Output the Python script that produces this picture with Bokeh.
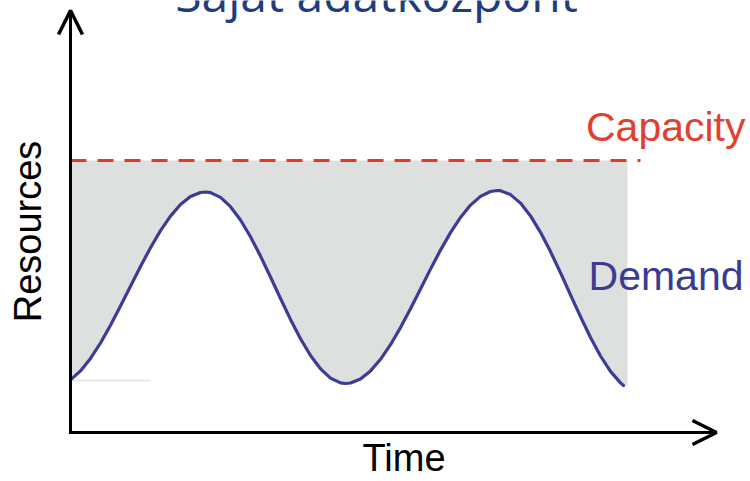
import math
from bokeh.plotting import figure
from bokeh.models import Range1d, Arrow, OpenHead, Label
from bokeh.embed import file_html
from bokeh.resources import INLINE

# ---- data (arbitrary units) ----
time = [0, 10, 20, 30, 40, 50, 60, 70, 80, 90, 100, 110, 120, 130, 135, 140,
        150, 160, 170, 180, 190, 200, 210, 220, 230, 240, 250, 260, 270, 275,
        280, 290, 300, 310, 320, 330, 340, 350, 360, 370, 380, 390, 400, 410,
        420, 427, 430, 440, 450, 460, 470, 480, 490, 500, 510, 520, 530, 540,
        550, 553]
demand = [52.6, 61.6, 74.1, 89.5, 107.2, 126.4, 146.2, 166.0, 184.8, 201.9,
          216.4, 228.0, 236.0, 240.0, 240.5, 239.9, 235.1, 225.8, 212.5, 195.7,
          176.4, 155.5, 134.0, 113.1, 93.8, 77.0, 63.7, 54.4, 49.6, 49.0,
          49.5, 53.6, 61.6, 73.2, 87.8, 104.9, 123.8, 143.5, 163.4, 182.4,
          199.9, 215.1, 227.4, 236.1, 241.0, 242.0, 241.8, 237.9, 229.4, 216.6,
          200.2, 180.9, 159.8, 137.7, 115.8, 95.0, 76.5, 61.1, 49.6, 47.0]
capacity = 272.0
capacity_end = 570      # time where the dashed capacity line stops
fill_end = 557          # time where the grey band stops
baseline_level = 52.0   # faint reference line at the start level
baseline_end = 80

title_text = "Saját adatközpont"
x_label = "Time"
y_label = "Resources"
capacity_label = "Capacity"
demand_label = "Demand"

TIME_MAX = 646
RES_MAX = 422

# ---- figure ----
p = figure(width=750, height=481, output_backend="svg", toolbar_location=None,
           x_range=Range1d(-70, 680), y_range=Range1d(-49, 432),
           min_border=0)
p.axis.visible = False
p.grid.visible = False
p.outline_line_color = None
p.background_fill_color = "white"
p.border_fill_color = "white"

# grey headroom band between demand and capacity
fill_x = time + [fill_end]
fill_low = demand + [demand[-1]]
p.varea(x=fill_x, y1=fill_low, y2=[capacity] * len(fill_x),
        fill_color="#dedfdf", fill_alpha=1.0)

# faint line at start level
p.line(x=[0, baseline_end], y=[baseline_level, baseline_level],
       line_color="#e4e4e4", line_width=1.5)

# capacity
p.line(x=[0, capacity_end], y=[capacity, capacity], line_color="#e23a2a",
       line_width=3, line_dash="16 11")

# demand
p.line(x=time, y=demand, line_color="#3c3c94", line_width=3.2,
       line_join="round", line_cap="round")

# axes with arrow heads
p.add_layout(Arrow(x_start=0, y_start=-1.5, x_end=0, y_end=RES_MAX,
                   line_width=3, line_color="black",
                   end=OpenHead(size=24, line_width=3.5, line_color="black")))
p.add_layout(Arrow(x_start=-1.5, y_start=0, x_end=TIME_MAX, y_end=0,
                   line_width=3, line_color="black",
                   end=OpenHead(size=24, line_width=3.5, line_color="black")))

# texts
p.add_layout(Label(x=306, y=439, text=title_text, text_align="center",
                   text_baseline="alphabetic", text_font="Open Sans",
                   text_font_size="48px", text_color="#1f3c7c"))
p.add_layout(Label(x=675, y=capacity + 34, text=capacity_label,
                   text_align="right", text_baseline="alphabetic",
                   text_font="Liberation Sans", text_font_size="41px",
                   text_color="#e2402f"))
p.add_layout(Label(x=673, y=157, text=demand_label, text_align="right",
                   text_baseline="alphabetic", text_font="Liberation Sans",
                   text_font_size="41px", text_color="#3b3b8f"))
p.add_layout(Label(x=333.5, y=-25, text=x_label, text_align="center",
                   text_baseline="alphabetic", text_font="Liberation Sans",
                   text_font_size="38px", text_color="black"))
p.add_layout(Label(x=-43, y=201, text=y_label, text_align="center",
                   text_baseline="alphabetic", angle=math.pi / 2,
                   text_font="Liberation Sans", text_font_size="38px",
                   text_color="black"))

open("out.html", "w").write(file_html(p, INLINE))
